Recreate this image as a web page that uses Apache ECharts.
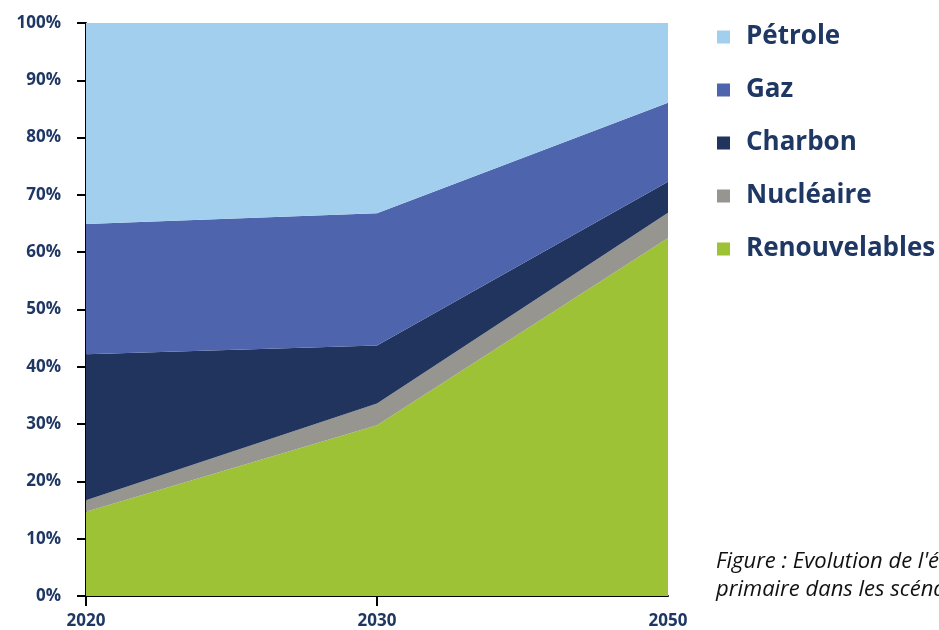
<!DOCTYPE html>
<html>
<head>
<meta charset="utf-8">
<style>
  html, body { margin: 0; padding: 0; background: #ffffff; }
  #chart { width: 939px; height: 630px; }
</style>
<script src="https://cdn.jsdelivr.net/npm/echarts@6/dist/echarts.min.js"></script>
</head>
<body>
<div id="chart"></div>
<script>
// Primary energy mix (% share) by scenario year
const years = ['2020', '2030', '2050'];
const renouvelables = [14.7, 29.8, 62.5];
const nucleaire = [2.0, 3.8, 4.4];
const charbon = [25.5, 10.1, 5.4];
const gaz = [22.7, 23.1, 13.8];
const petrole = [35.1, 33.2, 13.9];
const legendOrder = ['Pétrole', 'Gaz', 'Charbon', 'Nucléaire', 'Renouvelables'];

const navy = '#1f3763';
const chart = echarts.init(document.getElementById('chart'), null, { renderer: 'canvas' });

function layer(name, data, color) {
  return {
    name: name,
    type: 'line',
    stack: 'mix',
    data: data,
    symbol: 'none',
    lineStyle: { width: 0 },
    itemStyle: { color: color },
    areaStyle: { color: color, opacity: 1 },
    emphasis: { disabled: true }
  };
}

chart.setOption({
  animation: false,
  backgroundColor: '#ffffff',
  grid: { left: 86, right: 271, top: 23, bottom: 34, containLabel: false },
  legend: {
    data: legendOrder,
    orient: 'vertical',
    left: 717,
    top: 22,
    padding: 0,
    itemWidth: 13,
    itemHeight: 13,
    itemGap: 23,
    icon: 'rect',
    textStyle: {
      color: navy,
      fontFamily: 'Open Sans',
      fontWeight: 'bold',
      fontSize: 26,
      lineHeight: 30,
      padding: [0, 0, 0, 11]
    },
    selectedMode: false
  },
  xAxis: {
    type: 'category',
    data: years,
    boundaryGap: false,
    axisLine: { lineStyle: { color: '#000', width: 2 } },
    axisTick: {
      show: true, length: 10, inside: false,
      interval: function (i) { return i < years.length - 1; },
      lineStyle: { color: '#000', width: 2 }
    },
    axisLabel: {
      color: navy, fontFamily: 'Open Sans', fontWeight: 'bold', fontSize: 17, margin: 17
    },
    splitLine: { show: false }
  },
  yAxis: {
    type: 'value',
    min: 0,
    max: 100,
    interval: 10,
    axisLine: { show: true, lineStyle: { color: '#000', width: 2 } },
    axisTick: { show: true, length: 9, lineStyle: { color: '#000', width: 2 } },
    axisLabel: {
      formatter: '{value}%',
      color: navy, fontFamily: 'Open Sans', fontWeight: 'bold', fontSize: 17, margin: 25
    },
    splitLine: { show: false }
  },
  series: [
    layer('Renouvelables', renouvelables, '#9dc236'),
    layer('Nucléaire', nucleaire, '#969590'),
    layer('Charbon', charbon, '#20345e'),
    layer('Gaz', gaz, '#4e64ad'),
    layer('Pétrole', petrole, '#a3cfef')
  ],
  graphic: [
    {
      type: 'text',
      left: 716,
      top: 548,
      style: {
        text: "Figure : Evolution de l'énergie\nprimaire dans les scénarios",
        fill: '#111111',
        font: 'italic 22px "Open Sans"',
        lineHeight: 28
      }
    }
  ]
});
</script>
</body>
</html>
